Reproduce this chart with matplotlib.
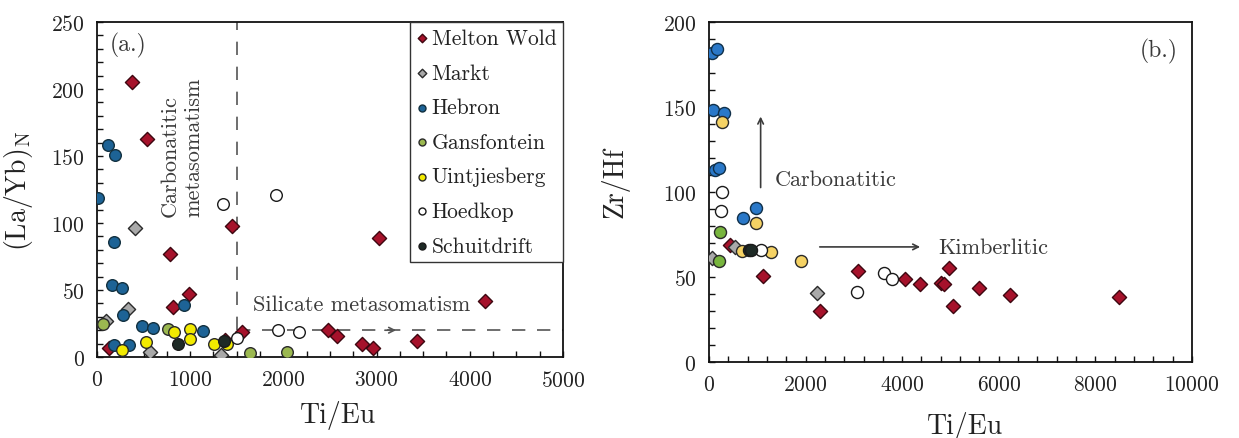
import matplotlib
matplotlib.use("Agg")
import matplotlib.pyplot as plt
from matplotlib.ticker import MultipleLocator

plt.rcParams["font.family"] = "cmr10"
plt.rcParams["mathtext.fontset"] = "cm"
plt.rcParams["axes.formatter.use_mathtext"] = True
plt.rcParams["axes.unicode_minus"] = False

GROUPS = ["Melton Wold", "Markt", "Hebron", "Gansfontein", "Uintjiesberg", "Hoedkop", "Schuitdrift"]

# (a) Ti/Eu vs (La/Yb)N
a_melton_x = [372, 533, 1445, 3026, 783, 990, 812, 132, 1370, 1559, 2482, 2571, 2840, 2958, 3430, 4163]
a_melton_y = [205, 163, 98, 89, 77, 47, 37, 7, 13, 19, 20, 16, 10, 7, 12, 42]
a_markt_x = [408, 336, 95, 569, 1327]
a_markt_y = [96, 36, 27, 4, 1.5]
a_hebron_x = [14, 115, 193, 186, 164, 265, 283, 937, 478, 605, 1141, 182, 347]
a_hebron_y = [119, 158, 151, 85.5, 54, 51.5, 31, 39, 23, 22, 19.6, 9, 9]
a_gans_x = [60, 758, 1642, 2034]
a_gans_y = [25, 21, 3, 4]
a_uint_x = [830, 998, 998, 527, 272, 1259, 1395]
a_uint_y = [19, 21, 13.5, 11, 5.5, 10, 10]
a_hoed_x = [1355, 1920, 1499, 1946, 2171]
a_hoed_y = [114, 121, 14, 20, 19]
a_schu_x = [870, 1360]
a_schu_y = [10, 12]

# (b) Ti/Eu vs Zr/Hf
b_melton_x = [435, 1123, 2292, 3085, 4055, 4372, 4800, 4862, 4980, 5043, 5589, 6229, 8498]
b_melton_y = [69, 50.7, 30.2, 53.6, 48.6, 45.7, 46.5, 46, 55.4, 33, 43.4, 39.5, 38.5]
b_markt_x = [60, 538, 2229]
b_markt_y = [61, 67.8, 40.8]
b_hebron_x = [69, 159, 90, 317, 124, 207, 711, 970]
b_hebron_y = [181.6, 184, 148, 146.5, 113, 114, 85, 90.5]
b_gans_x = [237, 198]
b_gans_y = [76.5, 59.6]
b_uint_x = [276, 970, 677, 1283, 1913]
b_uint_y = [141, 82, 65.4, 65, 59.2]
b_hoed_x = [276, 242, 1068, 3068, 3625, 3795]
b_hoed_y = [100, 89, 65.8, 41.1, 52.2, 48.8]
b_schu_x = [820, 880]
b_schu_y = [66, 66]

EDGE = "#1a1a1a"
TXT = "#3a3a3a"

style_a = {
    "Melton Wold": dict(marker="D", s=52, c="#a6122b", edgecolors="#3d0710"),
    "Markt": dict(marker="D", s=52, c="#a9a9a9", edgecolors="#2a2a2a"),
    "Hebron": dict(marker="o", s=70, c="#1d6396", edgecolors="#12303f"),
    "Gansfontein": dict(marker="o", s=70, c="#9bb850", edgecolors="#2a2a2a"),
    "Uintjiesberg": dict(marker="o", s=70, c="#f2ea00", edgecolors="#2a2a2a"),
    "Hoedkop": dict(marker="o", s=70, c="white", edgecolors=EDGE),
    "Schuitdrift": dict(marker="o", s=70, c="#1e2a26", edgecolors=EDGE),
}
style_b = dict(style_a)
style_b["Hebron"] = dict(marker="o", s=75, c="#2a78c8", edgecolors="#10304a")
style_b["Gansfontein"] = dict(marker="o", s=75, c="#78b53e", edgecolors="#2a2a2a")
style_b["Uintjiesberg"] = dict(marker="o", s=75, c="#f5d264", edgecolors="#2a2a2a")
style_b["Hoedkop"] = dict(marker="o", s=75, c="white", edgecolors=EDGE)
style_b["Schuitdrift"] = dict(marker="o", s=75, c="#1e2a26", edgecolors=EDGE)

data_a = {
    "Melton Wold": (a_melton_x, a_melton_y), "Markt": (a_markt_x, a_markt_y),
    "Hebron": (a_hebron_x, a_hebron_y), "Gansfontein": (a_gans_x, a_gans_y),
    "Uintjiesberg": (a_uint_x, a_uint_y), "Hoedkop": (a_hoed_x, a_hoed_y),
    "Schuitdrift": (a_schu_x, a_schu_y),
}
data_b = {
    "Melton Wold": (b_melton_x, b_melton_y), "Markt": (b_markt_x, b_markt_y),
    "Hebron": (b_hebron_x, b_hebron_y), "Gansfontein": (b_gans_x, b_gans_y),
    "Uintjiesberg": (b_uint_x, b_uint_y), "Hoedkop": (b_hoed_x, b_hoed_y),
    "Schuitdrift": (b_schu_x, b_schu_y),
}

fig = plt.figure(figsize=(12.39, 4.39), dpi=100)
ax_a = fig.add_axes([0.0783, 0.1845, 0.376, 0.763])
ax_b = fig.add_axes([0.5722, 0.1731, 0.3898, 0.7745])


def style_axes(ax):
    for side in ["top", "right", "left", "bottom"]:
        ax.spines[side].set_linewidth(1.3)
        ax.spines[side].set_color("#111111")
    ax.tick_params(which="both", direction="in", top=False, right=False,
                   length=4, width=1.0, color="#111111")
    ax.tick_params(which="major", labelsize=15.5, labelcolor="#222222", pad=9)


# reference lines first so markers sit on top
dash = (0, (8, 7))
ax_a.plot([1500, 1500], [20, 250], color="#555555", lw=1.2, ls=dash, zorder=1)
ax_a.plot([1500, 5000], [20, 20], color="#555555", lw=1.2, ls=dash, zorder=1)
ax_a.annotate("", xy=(3240, 20), xytext=(3060, 20),
              arrowprops=dict(arrowstyle="->", lw=1.2, color="#555555"), zorder=1)

for name in GROUPS:
    x, y = data_a[name]
    ax_a.scatter(x, y, linewidths=1.0, label=name, zorder=3, **style_a[name])
    x, y = data_b[name]
    ax_b.scatter(x, y, linewidths=1.0, zorder=3, **style_b[name])

ax_a.set_xlim(0, 5000)
ax_a.set_ylim(0, 250)
ax_a.xaxis.set_major_locator(MultipleLocator(1000))
ax_a.xaxis.set_minor_locator(MultipleLocator(250))
ax_a.yaxis.set_major_locator(MultipleLocator(50))
ax_a.yaxis.set_minor_locator(MultipleLocator(10))
style_axes(ax_a)
ax_a.set_xlabel("Ti/Eu", fontsize=20, color="#222222")
ax_a.set_ylabel(r"(La/Yb)$_\mathrm{N}$", fontsize=20, color="#222222")
ax_a.xaxis.set_label_coords(0.517, -0.128)
ax_a.yaxis.set_label_coords(-0.133, 0.5)

ax_a.text(139, 233.6, "(a.)", fontsize=17, color=TXT, ha="left", va="center")
ax_a.text(912, 105, "Carbonatitic\nmetasomatism", fontsize=16, color=TXT,
          rotation=90, ha="center", va="bottom", multialignment="left",
          linespacing=1.25)
ax_a.text(1674, 39.5, "Silicate metasomatism", fontsize=16, color=TXT,
          ha="left", va="center")

leg = ax_a.legend(loc="upper right", borderaxespad=0, fontsize=15.5, markerscale=0.6,
                  handletextpad=0.2, handlelength=0.5, labelspacing=0.7,
                  borderpad=0.3, fancybox=False, framealpha=1, edgecolor="#333333")
leg.get_frame().set_linewidth(1.0)
for t in leg.get_texts():
    t.set_color("#222222")

ax_b.set_xlim(0, 10000)
ax_b.set_ylim(0, 200)
ax_b.xaxis.set_major_locator(MultipleLocator(2000))
ax_b.xaxis.set_minor_locator(MultipleLocator(400))
ax_b.yaxis.set_major_locator(MultipleLocator(50))
ax_b.yaxis.set_minor_locator(MultipleLocator(10))
style_axes(ax_b)
ax_b.set_xlabel("Ti/Eu", fontsize=20, color="#222222")
ax_b.set_ylabel("Zr/Hf", fontsize=20, color="#222222")
ax_b.xaxis.set_label_coords(0.53, -0.145)
ax_b.yaxis.set_label_coords(-0.165, 0.53)

ax_b.text(9700, 183.5, "(b.)", fontsize=17, color=TXT, ha="right", va="center")
ax_b.annotate("", xy=(1070, 146), xytext=(1070, 101),
              arrowprops=dict(arrowstyle="->", lw=1.2, color=TXT))
ax_b.text(1366, 107.6, "Carbonatitic", fontsize=16, color=TXT, ha="left", va="center")
ax_b.annotate("", xy=(4430, 67.7), xytext=(2237, 67.7),
              arrowprops=dict(arrowstyle="->", lw=1.2, color=TXT))
ax_b.text(4743, 67.5, "Kimberlitic", fontsize=16, color=TXT, ha="left", va="center")

fig.savefig("out.png", dpi=100)
